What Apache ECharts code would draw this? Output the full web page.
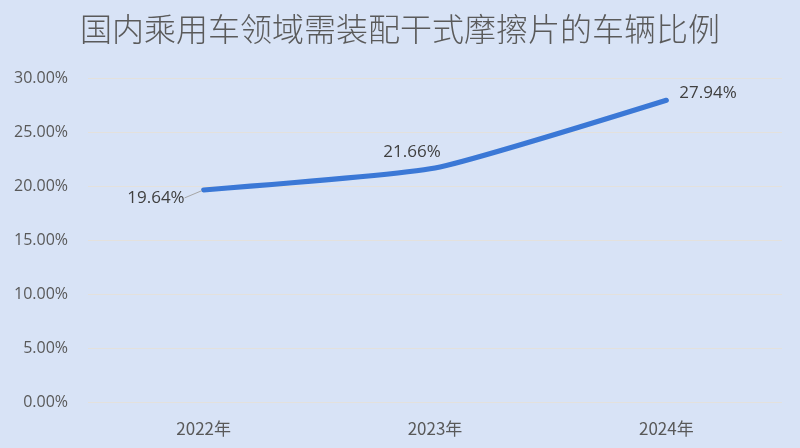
<!DOCTYPE html>
<html>
<head>
<meta charset="utf-8">
<script src="https://cdn.jsdelivr.net/npm/echarts@6/dist/echarts.min.js"></script>
<style>
html,body{margin:0;padding:0;background:#d8e3f6;}
#chart{width:800px;height:448px;}
</style>
</head>
<body>
<div id="chart"></div>
<script>
var titleText='国内乘用车领域需装配干式摩擦片的车辆比例';
var years=['2022年','2023年','2024年'];
var ratios=[19.64,21.66,27.94];
var yTicks=[0,5,10,15,20,25,30];

var chart=echarts.init(document.getElementById('chart'));
var font='"Noto Sans CJK SC","Noto Sans",sans-serif';
var numFont='"Open Sans","Noto Sans",sans-serif';

// label side and nudge for each point, like the picture
var labelSide=['left','top','right'];
var labelShift=[[-12,8],[-23,0],[6,-7]];
var seriesData=[];
for(var i=0;i<ratios.length;i++){
	var item={value:ratios[i],label:{position:labelSide[i]}};
	if(i==0){
		item.labelLine={show:true,lineStyle:{color:'#a6a6a6',width:1}};
	}
	seriesData.push(item);
}

var option={
	backgroundColor:'#d8e3f6',
	textStyle:{fontFamily:font},
	title:{
		text:titleText,
		left:'center',
		top:8,
		textStyle:{color:'#5a5a5a',fontSize:32,fontWeight:300,fontFamily:font}
	},
	grid:{left:88,right:18,top:78,bottom:46},
	xAxis:{
		type:'category',
		data:years,
		boundaryGap:true,
		axisLine:{show:false},
		axisTick:{show:false},
		axisLabel:{color:'#595959',fontSize:17,margin:18,fontFamily:font}
	},
	yAxis:{
		type:'value',
		min:yTicks[0],
		max:yTicks[yTicks.length-1],
		interval:5,
		axisLine:{show:false},
		axisTick:{show:false},
		splitLine:{lineStyle:{color:'#e4e1dc',width:1}},
		axisLabel:{
			color:'#595959',fontSize:16,margin:20,fontFamily:numFont,
			formatter:function(v){return v.toFixed(2)+'%';}
		}
	},
	series:[{
		type:'line',
		data:seriesData,
		smooth:0.15,
		symbol:'circle',
		symbolSize:4,
		showSymbol:true,
		itemStyle:{color:'#3b78d6'},
		lineStyle:{color:'#3b78d6',width:5,cap:'round',join:'round'},
		labelLayout:function(params){
			var s=labelShift[params.dataIndex];
			return {dx:s[0],dy:s[1]};
		},
		label:{
			show:true,
			color:'#404040',
			fontSize:17,
			fontFamily:numFont,
			formatter:function(p){return p.value.toFixed(2)+'%';}
		}
	}]
};
chart.setOption(option);
</script>
</body>
</html>
